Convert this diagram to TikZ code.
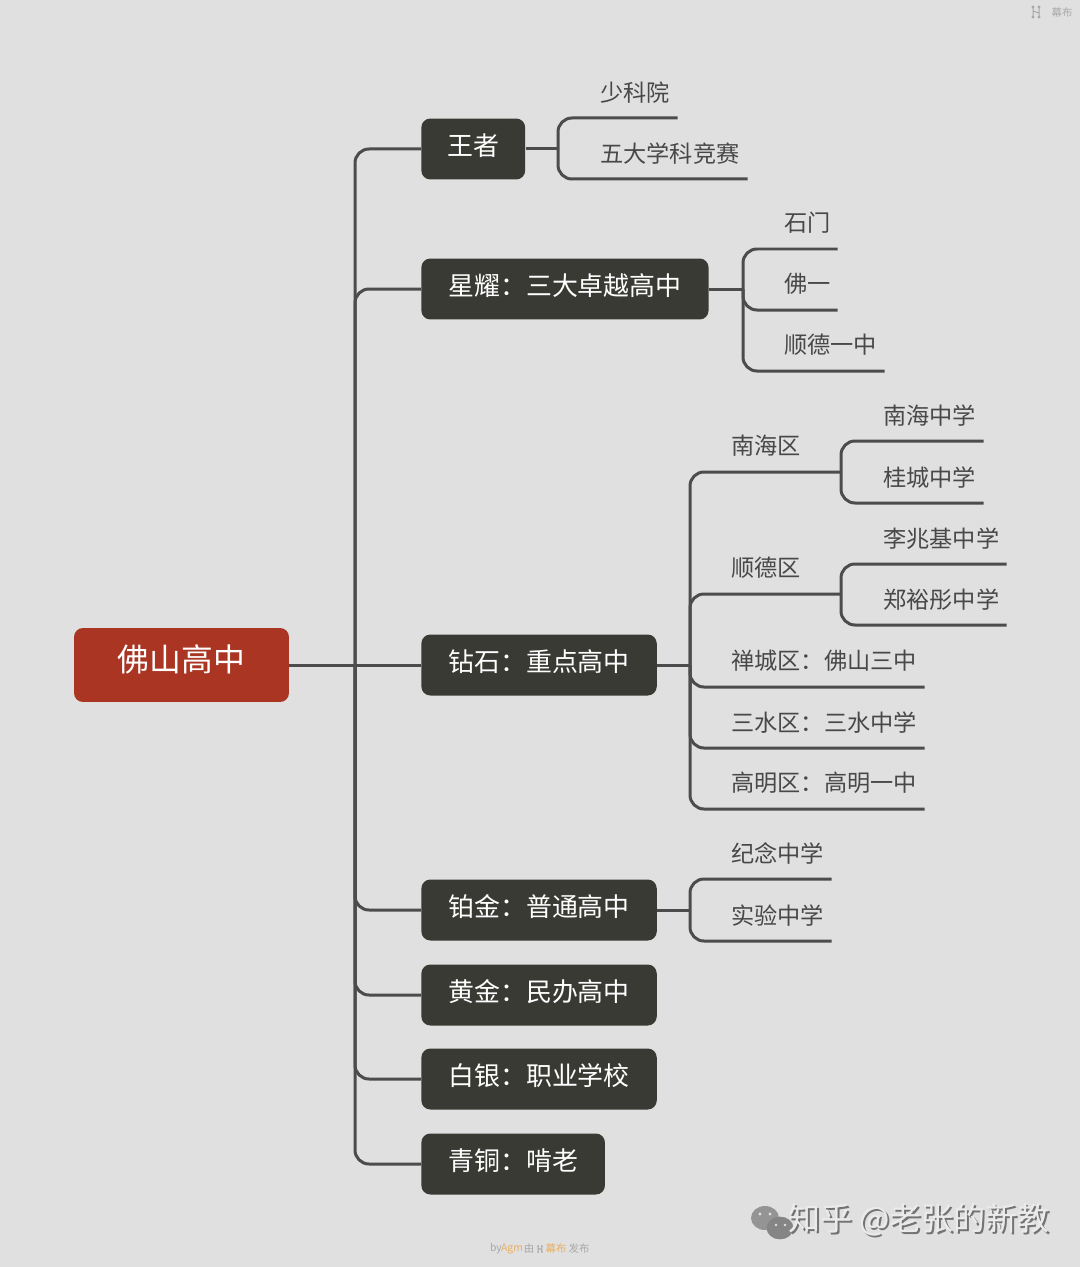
\documentclass[tikz,border=0pt]{standalone}
\usepackage{fontspec}
\usepackage{xcolor}
\setmainfont{Noto Sans CJK SC}
\usetikzlibrary{positioning}
\definecolor{pagebg}{HTML}{E0E0E0}
\definecolor{tierfill}{HTML}{3A3A35}
\definecolor{rootfill}{HTML}{A93522}
\definecolor{linkcol}{HTML}{4C4C4C}
\definecolor{leafcol}{HTML}{484848}
\definecolor{markcol}{HTML}{A8A8A8}
\definecolor{brandcol}{HTML}{E8B060}
\tikzset{
    treenode/.style = {align=center, rectangle, inner sep=0pt},
    root_node/.style = {treenode, white, fill=rootfill, rounded corners=0.18cm, minimum width=4.3cm, minimum height=1.48cm, text height=0.56cm, text depth=0.3cm, font=\fontsize{18.1pt}{20pt}\selectfont},
    tier_node/.style = {treenode, white, fill=tierfill, rounded corners=0.18cm, anchor=west, inner xsep=0.54cm, minimum height=1.22cm, text height=0.44cm, text depth=0.18cm, font=\fontsize{14.75pt}{16pt}\selectfont},
    leaf_node/.style = {treenode, align=left, leafcol, anchor=south west, text width=#1*0.02cm, minimum height=1.02cm, font=\fontsize{13.2pt}{15pt}\selectfont},
    link/.style = {draw=linkcol, line width=0.06cm},
    turn/.style = {link, rounded corners=0.28cm},
    mark_text/.style = {treenode, markcol, font=\fontsize{5.9pt}{7pt}\selectfont},
    site_icon/.pic = {
        \draw [markcol, line width=0.02cm] (-3,-5) -- (-3,5) (3,-5) -- (3,5) (-3,-1) -- (3,1);
        \fill [markcol] (-3,-5) circle (1.6) (-3,5) circle (1.6) (3,-5) circle (1.6) (3,5) circle (1.6);
    }
}
\begin{document}
\begin{tikzpicture}[x=0.02cm, y=-0.02cm]
    \fill[pagebg] (0,0) rectangle (1080,1267);
    \useasboundingbox (0,0) rectangle (1080,1267);

    % centre and tiers
    \node [root_node] (foshan) at (181.5,665) {佛山高中};
    \node [tier_node, inner xsep=0.52cm] (wangzhe) at (421,149) {王者};
    \node [tier_node] (xingyao) at (421,289) {星耀：三大卓越高中};
    \node [tier_node] (zuanshi) at (421,665) {钻石：重点高中};
    \node [tier_node] (bojin) at (421,910) {铂金：普通高中};
    \node [tier_node] (huangjin) at (421,995) {黄金：民办高中};
    \node [tier_node] (baiyin) at (421,1079) {白银：职业学校};
    \node [tier_node] (qingtong) at (421,1164) {青铜：啃老};

    % leaves, standing on their lines
    \node [leaf_node=77] (shaokeyuan) at (600,118) {少科院};
    \node [leaf_node=147] (wuda) at (600,179) {五大学科竞赛};
    \node [leaf_node=53] (shimen) at (784,249) {石门};
    \node [leaf_node=53] (foyi) at (784,310) {佛一};
    \node [leaf_node=100] (shunde) at (784,371) {顺德一中};
    \node [leaf_node=110] (nanhaiqu) at (731,472) {南海区};
    \node [leaf_node=110] (shundequ) at (731,594) {顺德区};
    \node [leaf_node=193] (chancheng) at (731,687) {禅城区：佛山三中};
    \node [leaf_node=193] (sanshui) at (731,748) {三水区：三水中学};
    \node [leaf_node=193] (gaoming) at (731,809) {高明区：高明一中};
    \node [leaf_node=100] (nanhai) at (883,441) {南海中学};
    \node [leaf_node=100] (guicheng) at (883,503) {桂城中学};
    \node [leaf_node=123] (lizhaoji) at (883,564) {李兆基中学};
    \node [leaf_node=123] (zhengyutong) at (883,625) {郑裕彤中学};
    \node [leaf_node=100] (jinian) at (731,879) {纪念中学};
    \node [leaf_node=100] (shiyan) at (731,941) {实验中学};

    % where the branches split
    \coordinate (trunk) at (355,665);
    \coordinate (wangzhe_bus) at (558,149);
    \coordinate (xingyao_bus) at (743,289);
    \coordinate (zuanshi_bus) at (690,665);
    \coordinate (nanhaiqu_bus) at (841,472);
    \coordinate (shundequ_bus) at (841,594);
    \coordinate (bojin_bus) at (690,910);

    \draw [link] (foshan.east) -- (zuanshi.west);
    \draw [turn] (trunk) |- (wangzhe.west);
    \draw [turn] (trunk) |- (xingyao.west);
    \draw [turn] (trunk) |- (bojin.west);
    \draw [turn] (trunk) |- (huangjin.west);
    \draw [turn] (trunk) |- (baiyin.west);
    \draw [turn] (trunk) |- (qingtong.west);

    \draw [link] (wangzhe.east) -- (wangzhe_bus);
    \draw [turn] (wangzhe_bus) |- (shaokeyuan.south east);
    \draw [turn] (wangzhe_bus) |- (wuda.south east);

    \draw [link] (xingyao.east) -- (xingyao_bus);
    \draw [turn] (xingyao_bus) |- (shimen.south east);
    \draw [turn] (xingyao_bus) |- (foyi.south east);
    \draw [turn] (xingyao_bus) |- (shunde.south east);

    \draw [link] (zuanshi.east) -- (zuanshi_bus);
    \draw [turn] (zuanshi_bus) |- (nanhaiqu.south east);
    \draw [turn] (zuanshi_bus) |- (shundequ.south east);
    \draw [turn] (zuanshi_bus) |- (chancheng.south east);
    \draw [turn] (zuanshi_bus) |- (sanshui.south east);
    \draw [turn] (zuanshi_bus) |- (gaoming.south east);

    \draw [turn] (nanhaiqu_bus) |- (nanhai.south east);
    \draw [turn] (nanhaiqu_bus) |- (guicheng.south east);
    \draw [turn] (shundequ_bus) |- (lizhaoji.south east);
    \draw [turn] (shundequ_bus) |- (zhengyutong.south east);

    \draw [link] (bojin.east) -- (bojin_bus);
    \draw [turn] (bojin_bus) |- (jinian.south east);
    \draw [turn] (bojin_bus) |- (shiyan.south east);

    % marks of the publishing site
    \pic at (1036,12) {site_icon};
    \node [mark_text] (brand_top) at (1062,13) {幕布};
    \node [mark_text] (by_text) at (496,1249) {by};
    \node [mark_text, brandcol] (agm_text) at (512,1249) {Agm};
    \node [mark_text] (you_text) at (529,1249) {由};
    \pic [scale=0.6] at (540,1249) {site_icon};
    \node [mark_text, brandcol] (brand_text) at (556,1249) {幕布};
    \node [mark_text] (fabu_text) at (579,1249) {发布};

    % watermark
    \fill [black!42] (765,1218) ellipse (14 and 12);
    \draw [black!48, fill=black!48] (780,1228) ellipse (13 and 11);
    \fill [pagebg] (760,1214) circle (1.6) (770,1214) circle (1.6) (776,1225) circle (1.4) (785,1225) circle (1.4);
    \node [treenode, black!55, font=\fontsize{18.2pt}{20pt}\selectfont] (zhihu_shadow) at (921,1222) {知乎 @老张的新教};
    \node [treenode, white!92!black, font=\fontsize{18.2pt}{20pt}\selectfont] (zhihu) at (919,1220) {知乎 @老张的新教};
\end{tikzpicture}
\end{document}
